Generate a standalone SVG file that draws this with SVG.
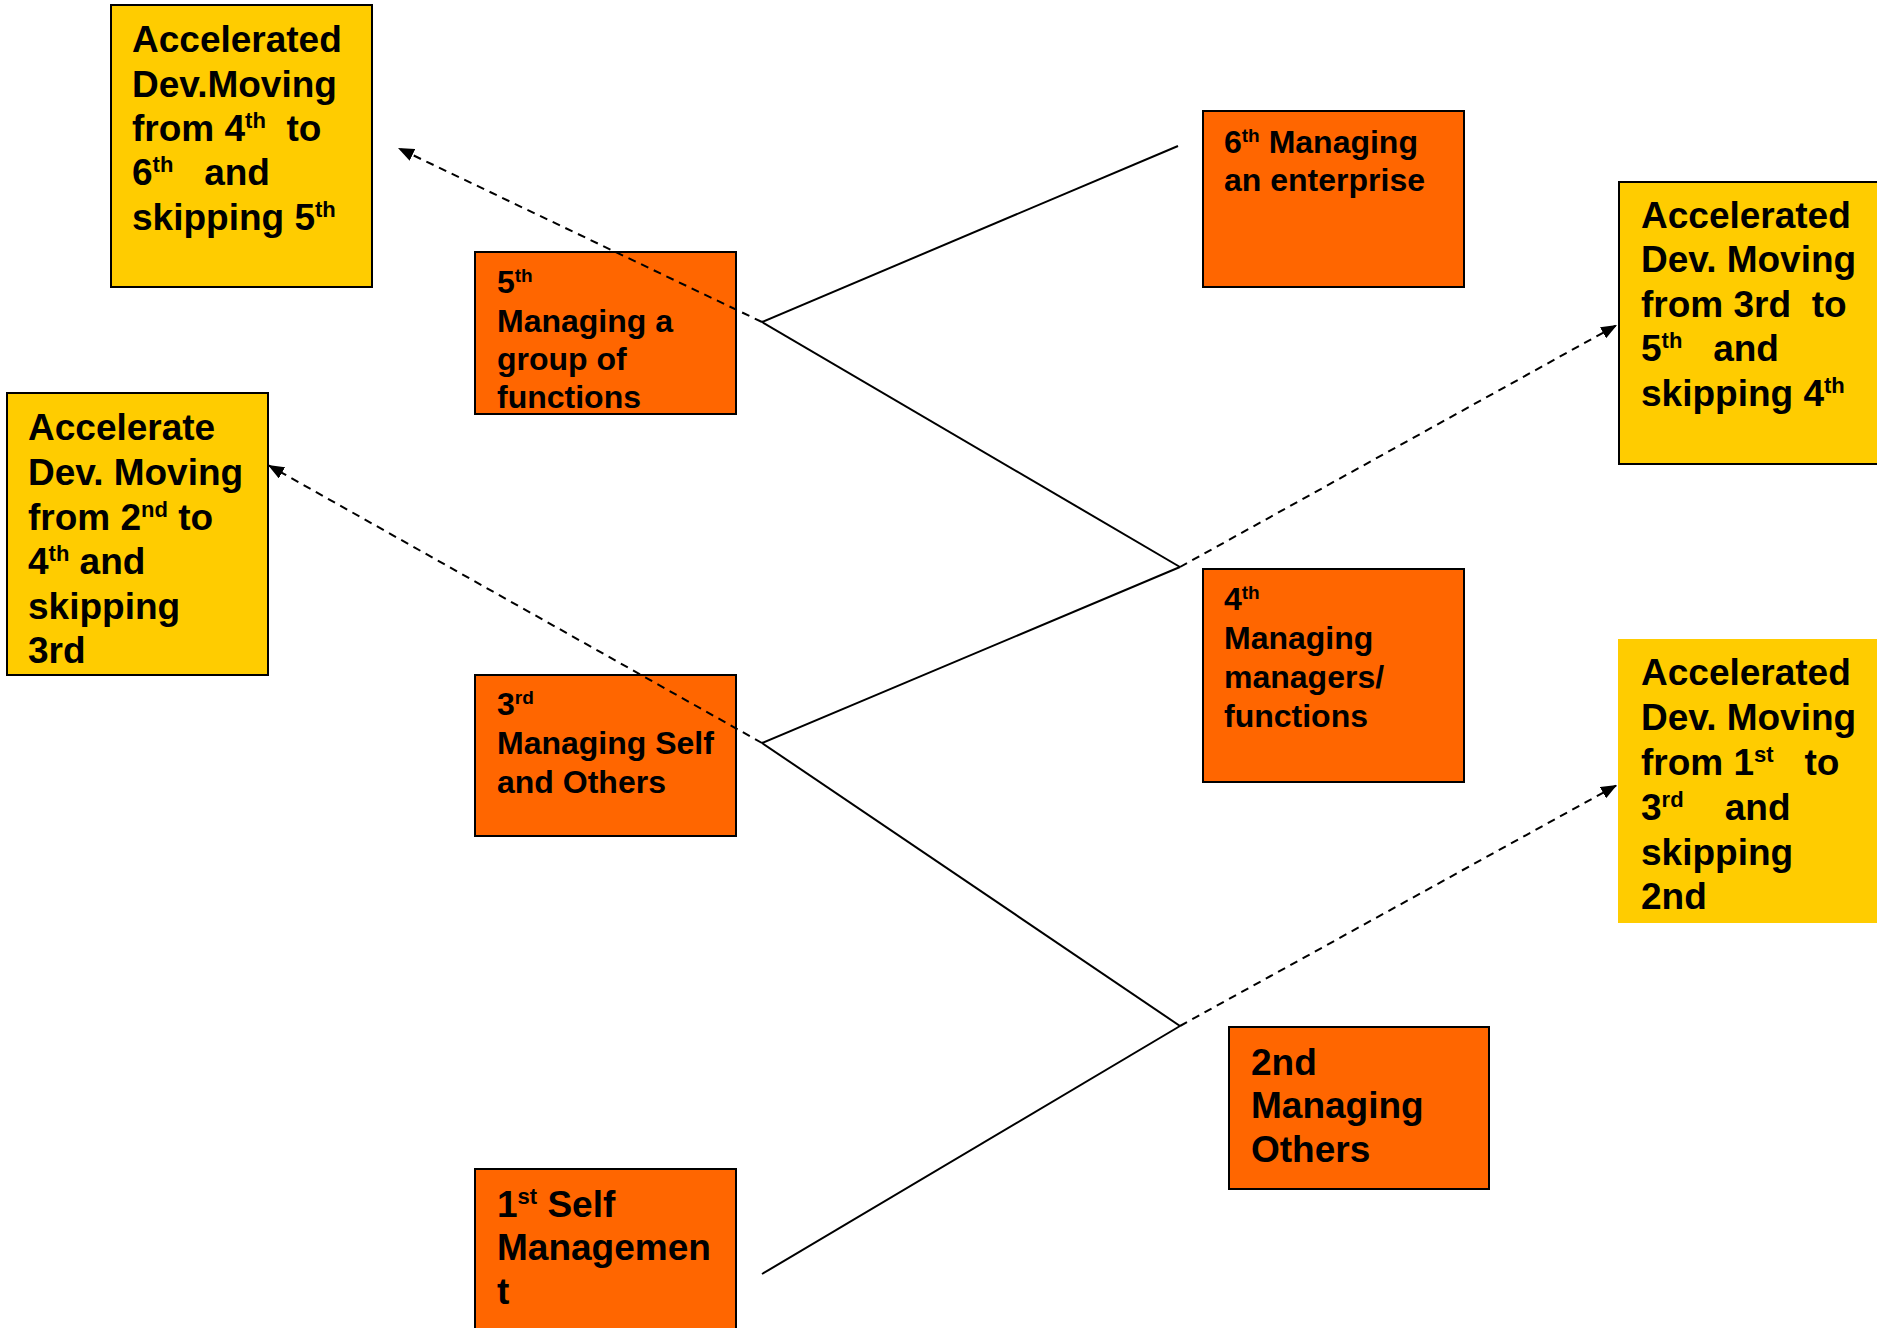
<svg xmlns="http://www.w3.org/2000/svg" width="1877" height="1328" viewBox="0 0 1877 1328">
<style>
.y{fill:#FFCC00;stroke:#000;stroke-width:2}
.yn{fill:#FFCC00;stroke:none}
.o{fill:#FF6600;stroke:#000;stroke-width:2}
text{font-family:"Liberation Sans",Arial,sans-serif;font-weight:bold;fill:#000;white-space:pre}
.L{font-size:37px}
.M{font-size:32px}
.sL{font-size:22px}
.sM{font-size:19px}
.solid{stroke:#000;stroke-width:2;fill:none}
.dash{stroke:#000;stroke-width:2;fill:none;stroke-dasharray:8 6;marker-end:url(#ah)}
</style>
<defs>
<marker id="ah" viewBox="0 0 10 8" refX="10" refY="4" markerWidth="16" markerHeight="13" markerUnits="userSpaceOnUse" orient="auto">
<path d="M0,0 L10,4 L0,8 z" fill="#000"/>
</marker>
</defs>
<rect width="1877" height="1328" fill="#fff"/>

<g id="acc-4-6">
<rect class="y" x="111" y="5" width="261" height="282"/>
<text class="L" x="132" y="52">Accelerated</text>
<text class="L" x="132" y="97">Dev.Moving</text>
<text class="L" x="132" y="141">from 4<tspan class="sL" dy="-13">th</tspan><tspan dy="13">  to</tspan></text>
<text class="L" x="132" y="185">6<tspan class="sL" dy="-13">th</tspan><tspan dy="13">   and</tspan></text>
<text class="L" x="132" y="230">skipping 5<tspan class="sL" dy="-13">th</tspan></text>
</g>

<g id="acc-2-4">
<rect class="y" x="7" y="393" width="261" height="282"/>
<text class="L" x="28" y="440">Accelerate</text>
<text class="L" x="28" y="485">Dev. Moving</text>
<text class="L" x="28" y="530">from 2<tspan class="sL" dy="-13">nd</tspan><tspan dy="13"> to</tspan></text>
<text class="L" x="28" y="574">4<tspan class="sL" dy="-13">th</tspan><tspan dy="13"> and</tspan></text>
<text class="L" x="28" y="619">skipping</text>
<text class="L" x="28" y="663">3rd</text>
</g>

<g id="level5">
<rect class="o" x="475" y="252" width="261" height="162"/>
<text class="M" x="497" y="293">5<tspan class="sM" dy="-11">th</tspan></text>
<text class="M" x="497" y="332">Managing a</text>
<text class="M" x="497" y="370">group of</text>
<text class="M" x="497" y="408">functions</text>
</g>

<g id="level6">
<rect class="o" x="1203" y="111" width="261" height="176"/>
<text class="M" x="1224" y="153">6<tspan class="sM" dy="-11">th</tspan><tspan dy="11"> Managing</tspan></text>
<text class="M" x="1224" y="191">an enterprise</text>
</g>

<g id="acc-3-5">
<rect class="y" x="1619" y="182" width="270" height="282"/>
<text class="L" x="1641" y="228">Accelerated</text>
<text class="L" x="1641" y="272">Dev. Moving</text>
<text class="L" x="1641" y="317">from 3rd  to</text>
<text class="L" x="1641" y="361">5<tspan class="sL" dy="-13">th</tspan><tspan dy="13">   and</tspan></text>
<text class="L" x="1641" y="406">skipping 4<tspan class="sL" dy="-13">th</tspan></text>
</g>

<g id="level4">
<rect class="o" x="1203" y="569" width="261" height="213"/>
<text class="M" x="1224" y="610">4<tspan class="sM" dy="-11">th</tspan></text>
<text class="M" x="1224" y="649">Managing</text>
<text class="M" x="1224" y="688">managers/</text>
<text class="M" x="1224" y="727">functions</text>
</g>

<g id="level3">
<rect class="o" x="475" y="675" width="261" height="161"/>
<text class="M" x="497" y="715">3<tspan class="sM" dy="-11">rd</tspan></text>
<text class="M" x="497" y="754">Managing Self</text>
<text class="M" x="497" y="793">and Others</text>
</g>

<g id="acc-1-3">
<rect class="yn" x="1618" y="639" width="270" height="284"/>
<text class="L" x="1641" y="685">Accelerated</text>
<text class="L" x="1641" y="730">Dev. Moving</text>
<text class="L" x="1641" y="775">from 1<tspan class="sL" dy="-13">st</tspan><tspan dy="13">   to</tspan></text>
<text class="L" x="1641" y="820">3<tspan class="sL" dy="-13">rd</tspan><tspan dy="13">    and</tspan></text>
<text class="L" x="1641" y="865">skipping</text>
<text class="L" x="1641" y="909">2nd</text>
</g>

<g id="level2">
<rect class="o" x="1229" y="1027" width="260" height="162"/>
<text class="L" x="1251" y="1075">2nd</text>
<text class="L" x="1251" y="1118">Managing</text>
<text class="L" x="1251" y="1162">Others</text>
</g>

<g id="level1">
<rect class="o" x="475" y="1169" width="261" height="175"/>
<text class="L" x="497" y="1217">1<tspan class="sL" dy="-13">st</tspan><tspan dy="13"> Self</tspan></text>
<text class="L" x="497" y="1260">Managemen</text>
<text class="L" x="497" y="1304">t</text>
</g>

<g id="connectors">
<path class="solid" d="M762,322 L1178,146"/>
<path class="solid" d="M762,322 L1180,567"/>
<path class="solid" d="M762,743 L1180,567"/>
<path class="solid" d="M762,743 L1180,1026"/>
<path class="solid" d="M762,1274 L1180,1026"/>
<path class="dash" d="M762,322 L398,148"/>
<path class="dash" d="M762,743 L268,465"/>
<path class="dash" d="M1180,567 L1617,325"/>
<path class="dash" d="M1180,1026 L1617,785"/>
</g>
</svg>
